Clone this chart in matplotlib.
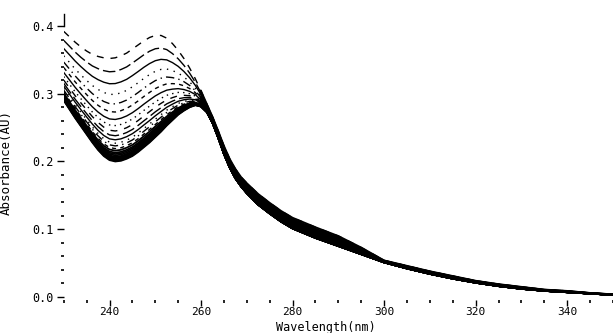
import numpy as np
import matplotlib
matplotlib.use("Agg")
import matplotlib.pyplot as plt
from matplotlib.ticker import MultipleLocator

wavelength = [230, 231.25, 232.5, 233.75, 235, 236.25, 237.5, 238.75, 240,
              241.25, 242.5, 243.75, 245, 246.25, 247.5, 248.75, 250, 251.25,
              252.5, 253.75, 255, 256.25, 257.5, 258.75, 260, 261.25, 262.5,
              263.75, 265, 266.25, 267.5, 268.75, 270, 272.5, 275, 277.5, 280,
              285, 290, 295, 300, 305, 310, 315, 320, 325, 330, 335, 340, 345,
              350]

# lowest (last) scan
last_scan = [0.290, 0.277, 0.264, 0.252, 0.240, 0.228, 0.217, 0.208, 0.202,
             0.200, 0.201, 0.204, 0.208, 0.214, 0.221, 0.228, 0.236, 0.244,
             0.253, 0.261, 0.269, 0.275, 0.280, 0.283, 0.281, 0.273, 0.257,
             0.235, 0.211, 0.191, 0.175, 0.163, 0.153, 0.136, 0.123, 0.111,
             0.101, 0.087, 0.075, 0.063, 0.051, 0.042, 0.034, 0.027, 0.021,
             0.016, 0.012, 0.009, 0.007, 0.005, 0.003]

# highest (first) scan, dashed
first_scan = [0.392, 0.384, 0.376, 0.369, 0.363, 0.358, 0.355, 0.353, 0.352,
              0.353, 0.356, 0.360, 0.366, 0.372, 0.378, 0.383, 0.386, 0.386,
              0.382, 0.374, 0.364, 0.352, 0.338, 0.322, 0.304, 0.285, 0.266,
              0.245, 0.223, 0.204, 0.189, 0.177, 0.168, 0.152, 0.139, 0.127,
              0.117, 0.103, 0.090, 0.073, 0.054, 0.046, 0.038, 0.031, 0.024,
              0.019, 0.015, 0.011, 0.009, 0.006, 0.004]

# absorbance of each scan at the 240 nm minimum
level_240 = [0.353, 0.333, 0.315, 0.299, 0.285, 0.273, 0.262, 0.253, 0.245,
             0.238, 0.232, 0.227, 0.223, 0.219, 0.216, 0.213, 0.211, 0.209,
             0.207, 0.206, 0.205, 0.204, 0.203, 0.202, 0.201, 0.200]

styles = [(0, (5, 5)), (0, (9, 3)), "-", (0, (1, 4)), (0, (6, 3, 1, 3)),
          (0, (3, 3)), "-", (0, (1, 3))]

wl = np.array(wavelength)
lo = np.array(last_scan)
hi = np.array(first_scan)
tail = wl >= 260

fig = plt.figure(figsize=(6.13, 3.33), dpi=100)
ax = fig.add_axes([0.104, 0.100, 0.896, 0.822])

for i, lev in enumerate(level_240):
    f = (lev - level_240[-1]) / (level_240[0] - level_240[-1])
    spec = lo + f * (hi - lo)
    ls = styles[i % len(styles)] if i < 14 else "-"
    lw = 1.0 if i < 14 else 1.3
    ax.plot(wl, spec, color="black", lw=lw, ls=ls)
    # curves overlap past the peak, so the band reads solid
    ax.plot(wl[tail], spec[tail], color="black", lw=1.3)

ax.set_xlim(230, 350)
ax.set_ylim(-0.004, 0.4)
for s in ax.spines.values():
    s.set_visible(False)

ax.xaxis.set_minor_locator(MultipleLocator(5))
ax.yaxis.set_minor_locator(MultipleLocator(0.02))
ax.set_xticks([240, 260, 280, 300, 320, 340])
ax.set_xticklabels(["240", "260", "280", "300", "320", "340"])
ax.set_yticks([0.0, 0.1, 0.2, 0.3, 0.4])
ax.set_yticklabels(["0.0", "0.1", "0.2", "0.3", "0.4"])
ax.tick_params(which="major", direction="out", length=5, width=1,
               labelsize=8.5, pad=2)
ax.tick_params(axis="x", which="major", length=4, pad=1.5, labelsize=8)
ax.tick_params(which="minor", direction="out", length=2, width=1.2)
for lab in ax.get_xticklabels() + ax.get_yticklabels():
    lab.set_family("DejaVu Sans Mono")

ax.plot([0, 0], [1.0, 1.045], color="black", lw=1,
        transform=ax.transAxes, clip_on=False)

ax.set_xlabel("Wavelength(nm)", family="DejaVu Sans Mono", fontsize=8.5)
ax.set_ylabel("Absorbance(AU)", family="DejaVu Sans Mono", fontsize=9)
ax.xaxis.set_label_coords(0.477, -0.078)
ax.yaxis.set_label_coords(-0.093, 0.5)

fig.savefig("out.png", dpi=100)
